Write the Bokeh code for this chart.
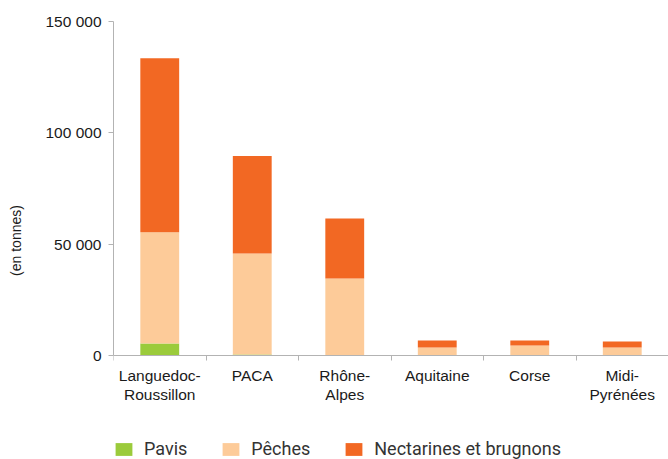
from bokeh.plotting import figure
from bokeh.models import (Range1d, FixedTicker, CustomJSTickFormatter, Legend,
                          LegendItem, ColumnDataSource)
from bokeh.embed import file_html
from bokeh.resources import INLINE

# ---- data ----
regions = ["Languedoc-Roussillon", "PACA", "Rhône-Alpes", "Aquitaine", "Corse", "Midi-Pyrénées"]
region_labels = ["Languedoc-\nRoussillon", "PACA", "Rhône-\nAlpes", "Aquitaine", "Corse", "Midi-\nPyrénées"]
pavis = [5500, 600, 150, 0, 0, 0]
peches = [49900, 45350, 34500, 3700, 4600, 3700]
nectarines = [78150, 43700, 27000, 3150, 2250, 2700]
series_names = ["Pavis", "Pêches", "Nectarines et brugnons"]
series_keys = ["pavis", "peches", "nectarines"]
colors = ["#9BCB3B", "#FDCB99", "#F26823"]
y_ticks = [0, 50000, 100000, 150000]
y_title = "(en tonnes)"

n = len(regions)
centers = [i + 0.5 for i in range(n)]          # category slot centres
source = ColumnDataSource(dict(x=centers, region=regions, pavis=pavis,
                               peches=peches, nectarines=nectarines))

# frame extends to the bottom of the figure; the value axis stops at 0
Y_MAX = 150000
Y_MIN = -46500   # room below the baseline for category labels and legend

p = figure(x_range=Range1d(0, n), y_range=Range1d(Y_MIN, Y_MAX),
           width=668, height=459, output_backend="svg", toolbar_location=None,
           min_border_left=113, min_border_right=0,
           min_border_top=21, min_border_bottom=0)
p.outline_line_color = None
p.grid.visible = False
p.background_fill_color = "white"
p.border_fill_color = "white"

renderers = p.vbar_stack(series_keys, x="x", width=0.42, color=colors,
                         line_color=None, source=source)

# x axis: labels at centres, ticks at category boundaries, drawn at y = 0
xaxis = p.xaxis[0]
xaxis.fixed_location = 0
xaxis.ticker = FixedTicker(ticks=centers, minor_ticks=list(range(n + 1)))
xaxis.major_label_overrides = {c: lab for c, lab in zip(centers, region_labels)}
xaxis.axis_line_color = "#B3B3B3"
xaxis.major_tick_line_color = None
xaxis.major_tick_out = 0
xaxis.major_tick_in = 0
xaxis.minor_tick_line_color = "#B3B3B3"
xaxis.minor_tick_out = 5
xaxis.minor_tick_in = 0
xaxis.major_label_standoff = 6
xaxis.major_label_text_font = "Liberation Sans"
xaxis.major_label_text_font_size = "15.5px"
xaxis.major_label_text_color = "#1a1a1a"
xaxis.major_label_text_line_height = 1.15

yaxis = p.yaxis[0]
yaxis.bounds = (0, Y_MAX)
yaxis.ticker = FixedTicker(ticks=y_ticks)
yaxis.formatter = CustomJSTickFormatter(code=r"return tick.toFixed(0).replace(/\B(?=(\d{3})+(?!\d))/g, ' ');")
yaxis.axis_line_color = "#B3B3B3"
yaxis.major_tick_line_color = "#B3B3B3"
yaxis.major_tick_out = 5
yaxis.major_tick_in = 0
yaxis.minor_tick_line_color = None
yaxis.major_label_standoff = 7
yaxis.major_label_text_font = "Liberation Sans"
yaxis.major_label_text_font_size = "15.5px"
yaxis.major_label_text_color = "#1a1a1a"
yaxis.axis_label = y_title
yaxis.axis_label_text_font = "Liberation Sans"
yaxis.axis_label_text_font_size = "14px"
yaxis.axis_label_text_font_style = "normal"
yaxis.axis_label_text_color = "#1a1a1a"
yaxis.axis_label_standoff = 18

leg = Legend(items=[LegendItem(label=name, renderers=[r])
                    for name, r in zip(series_names, renderers)],
             location=(0, 0), orientation="horizontal",
             padding=0, margin=0, border_line_color=None, spacing=33,
             background_fill_alpha=0, glyph_width=21, glyph_height=16,
             label_standoff=10, label_text_font="Roboto",
             label_text_font_size="18px", label_text_color="#333333")
p.add_layout(leg, "center")

open("out.html", "w").write(file_html(p, INLINE))
